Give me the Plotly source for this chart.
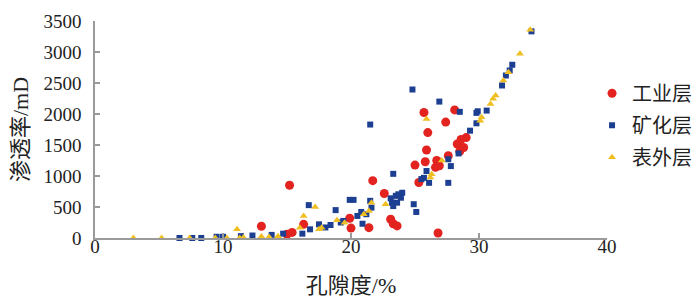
import plotly.graph_objects as go

# 工业层 (industrial layer) - red circles
ind_x = [13.0, 15.2, 15.0, 15.4, 16.3, 19.9, 20.0, 21.4, 21.7, 22.6, 23.1, 23.3, 23.6,
         25.0, 25.3, 25.7, 25.8, 25.9, 26.0, 26.6, 26.7, 26.8, 26.9, 27.4, 27.6, 28.1,
         28.3, 28.5, 28.6, 28.8, 29.0]
ind_y = [190, 850, 60, 90, 220, 318, 160, 167, 925, 717, 302, 230, 195,
         1176, 895, 2025, 1230, 1420, 1700, 1140, 1250, 80, 1165, 1870, 1327, 2066,
         1516, 1400, 1590, 1460, 1620]

# 矿化层 (mineralized layer) - blue squares
min_x = [6.6, 7.6, 8.3, 9.5, 10.0, 11.4, 12.3, 13.8, 14.7, 16.2, 16.7, 16.8, 17.5,
         18.0, 18.4, 18.8, 19.2, 19.4, 19.9, 20.2, 20.5, 20.8, 20.9, 21.2, 21.5, 21.6,
         21.5, 23.1, 23.2, 23.5, 23.7, 23.9, 23.6, 23.3, 24.0, 24.9, 25.1, 23.3,
         24.8, 26.9, 25.5, 25.7, 25.9, 26.1, 27.6, 27.6, 27.8, 28.4, 28.5, 29.3,
         29.8, 29.8, 29.9, 30.6, 31.8, 32.1, 32.4, 32.6, 34.1]
min_y = [0, 0, 0, 20, 20, 30, 40, 50, 70, 70, 530, 140, 220,
         170, 210, 450, 250, 275, 615, 615, 356, 420, 230, 383, 600, 490,
         1830, 640, 570, 680, 705, 650, 570, 515, 730, 545, 420, 1035,
         2395, 2200, 950, 970, 1080, 890, 890, 1270, 1160, 1364, 2035, 1731,
         2018, 1850, 2044, 2055, 2460, 2621, 2702, 2794, 3333]

# 表外层 (off-balance layer) - yellow triangles
off_x = [3.0, 5.2, 7.4, 9.4, 10.3, 11.1, 11.3, 11.6, 13.0, 13.6, 14.3, 16.0, 16.3,
         17.2, 17.5, 17.7, 18.9, 19.5, 21.0, 21.4, 21.6, 22.7, 25.9, 26.2, 26.3,
         27.1, 30.1, 30.2, 30.9, 31.1, 31.3, 31.9, 32.3, 33.2, 34.0]
off_y = [0, 0, 0, 0, 0, 140, 0, 10, 25, 15, 30, 167, 356,
         500, 140, 167, 285, 247, 383, 437, 570, 545, 1920, 976, 1030,
         1250, 1893, 1947, 2163, 2244, 2298, 2540, 2675, 2972, 3360]

x_ticks = [0, 10, 20, 30, 40]
y_ticks = [0, 500, 1000, 1500, 2000, 2500, 3000, 3500]

RED = "#e2231f"
BLUE = "#1c3f92"
YELLOW = "#efbf22"

fig = go.Figure()
fig.add_trace(go.Scatter(x=ind_x, y=ind_y, mode="markers", name="工业层",
                         legendgroup="a", cliponaxis=False,
                         marker=dict(symbol="circle", size=9, color=RED)))
fig.add_trace(go.Scatter(x=min_x, y=min_y, mode="markers", name="矿化层",
                         legendgroup="b", cliponaxis=False,
                         marker=dict(symbol="square", size=6, color=BLUE)))
fig.add_trace(go.Scatter(x=off_x, y=off_y, mode="markers", name="表外层",
                         legendgroup="c", cliponaxis=False,
                         marker=dict(symbol="triangle-up", size=7, color=YELLOW)))

axis_common = dict(showgrid=False, zeroline=False, showline=True, automargin=False,
                   linecolor="#9a9a9a", linewidth=1.5, ticks="inside",
                   ticklen=5, tickwidth=1.5, tickcolor="#9a9a9a",
                   tickfont=dict(family="Liberation Serif, serif", size=19, color="#222"))

fig.update_layout(
    width=692, height=293,
    margin=dict(l=87, r=93, t=13, b=63, autoexpand=False),
    plot_bgcolor="white", paper_bgcolor="white",
    xaxis=dict(range=[0, 40], tickvals=x_ticks, ticklabelstandoff=-10,
               title=dict(text="孔隙度/%", standoff=22,
                          font=dict(family="Liberation Serif, Noto Sans CJK SC", size=22, color="#222")),
               **axis_common),
    yaxis=dict(range=[0, 3500], tickvals=y_ticks, ticklabelstandoff=8,
               title=dict(text="渗透率/mD", standoff=13,
                          font=dict(family="Liberation Serif, Noto Sans CJK SC", size=22, color="#222")),
               **axis_common),
    legend=dict(xref="container", yref="container", x=0.844, xanchor="left",
                y=0.60, yanchor="middle",
                traceorder="grouped", tracegroupgap=3, itemwidth=30,
                font=dict(family="Noto Sans CJK SC", size=20, color="#222"),
                bgcolor="rgba(0,0,0,0)"),
    showlegend=True,
)

fig.write_html("out.html")
